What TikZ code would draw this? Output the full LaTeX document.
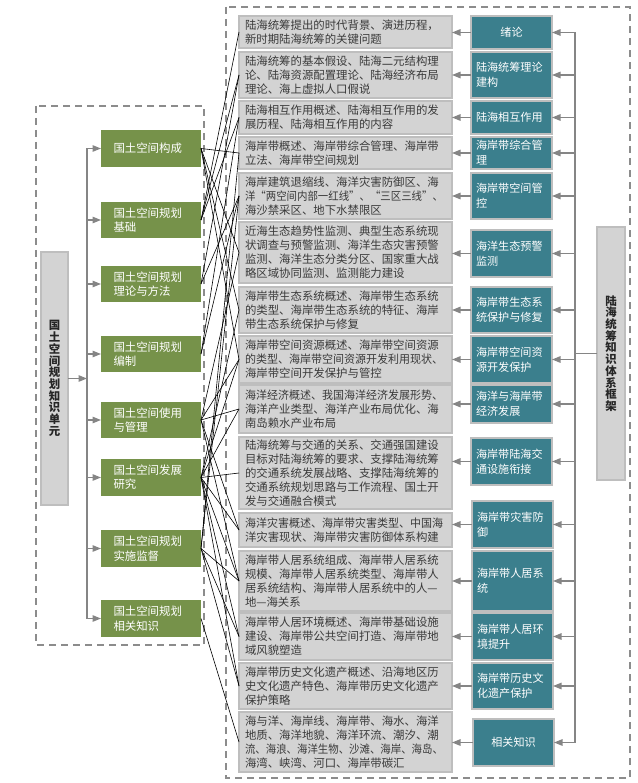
\documentclass[tikz,border=0pt]{standalone}
\usepackage{fontspec}
\usepackage{graphicx}
\newfontfamily\cjk{Noto Sans CJK SC}
\usetikzlibrary{arrows.meta}
\definecolor{gbox}{HTML}{D3D3D3}
\definecolor{gline}{HTML}{BEBEBE}
\definecolor{teal2}{HTML}{3B7F8D}
\definecolor{olive2}{HTML}{76924A}
\definecolor{txt}{HTML}{3A3A3A}
\definecolor{arr}{HTML}{858585}
\definecolor{dashc}{HTML}{8C8C8C}
\newcommand\fitline[1]{\resizebox{198pt}{\height}{#1}}
\begin{document}
\begin{tikzpicture}[x=1pt,y=-1pt,
 graybox/.style={draw=gline,line width=1.2pt,fill=gbox,anchor=north west,inner xsep=6pt,inner ysep=0pt,text width=201pt,align=left,font=\cjk\fontsize{11.4}{14}\selectfont,text=txt,outer sep=0pt},
 tealbox/.style={draw=gline,line width=1.2pt,fill=teal2,anchor=north west,inner xsep=5pt,inner ysep=0pt,text width=71pt,align=left,font=\cjk\fontsize{11.1}{15}\selectfont,text=white,outer sep=0pt},
 greenbox/.style={fill=olive2,anchor=north west,inner xsep=12.5pt,inner ysep=0pt,text width=75pt,align=left,font=\cjk\fontsize{11.4}{14.3}\selectfont,text=white,outer sep=0pt},
 vbox/.style={draw=gline,line width=1.2pt,fill=gbox,anchor=north west,inner sep=0pt,text width=13pt,align=center,font=\cjk\bfseries\fontsize{11.4}{11.7}\selectfont,text=black!85,outer sep=0pt},
 dashbox/.style={draw=dashc,line width=1.2pt,dash pattern=on 7pt off 5pt},
 arrline/.style={draw=arr,line width=1.2pt},
 arrtip/.style={arrline,-{Triangle[length=8.5pt,width=6.5pt]}},
 conn/.style={draw=black,line width=0.6pt}
]
\useasboundingbox (0,0) rectangle (637,783);

% dashed groups
\draw[dashbox] (36,106) rectangle (204,645);
\draw[dashbox] (226,7) rectangle (630,778);

% left unit box
\node[vbox,minimum width=27pt,minimum height=253pt] (L) at (41,252) {国\\土\\空\\间\\规\\划\\知\\识\\单\\元};

% green boxes
\node[greenbox,minimum height=37pt] (G1) at (101,130) {国土空间构成};
\node[greenbox,minimum height=36pt] (G2) at (101,202) {国土空间规划\\基础};
\node[greenbox,minimum height=36pt] (G3) at (101,266) {国土空间规划\\理论与方法};
\node[greenbox,minimum height=36pt] (G4) at (101,336) {国土空间规划\\编制};
\node[greenbox,minimum height=36pt] (G5) at (101,402) {国土空间使用\\与管理};
\node[greenbox,minimum height=37pt] (G6) at (101,459) {国土空间发展\\研究};
\node[greenbox,minimum height=37pt] (G7) at (101,530) {国土空间规划\\实施监督};
\node[greenbox,minimum height=37pt] (G8) at (101,600) {国土空间规划\\相关知识};

% gray content boxes
\node[graybox,minimum height=32pt] (T1) at (239,16) {陆海统筹提出的时代背景、演进历程，\\新时期陆海统筹的关键问题};
\node[graybox,minimum height=46pt] (T2) at (239,52) {陆海统筹的基本假设、陆海二元结构理\\论、陆海资源配置理论、陆海经济布局\\理论、海上虚拟人口假说};
\node[graybox,minimum height=33pt] (T3) at (239,101) {陆海相互作用概述、陆海相互作用的发\\展历程、陆海相互作用的内容};
\node[graybox,minimum height=32pt] (T4) at (239,137) {海岸带概述、海岸带综合管理、海岸带\\立法、海岸带空间规划};
\node[graybox,minimum height=46pt] (T5) at (239,173) {海岸建筑退缩线、海洋灾害防御区、海\\\fitline{洋“两空间内部一红线”、“三区三线”、}\\海沙禁采区、地下水禁限区};
\node[graybox,minimum height=61pt] (T6) at (239,222) {近海生态趋势性监测、典型生态系统现\\状调查与预警监测、海洋生态灾害预警\\监测、海洋生态分类分区、国家重大战\\略区域协同监测、监测能力建设};
\node[graybox,minimum height=46pt] (T7) at (239,287) {海岸带生态系统概述、海岸带生态系统\\的类型、海岸带生态系统的特征、海岸\\带生态系统保护与修复};
\node[graybox,minimum height=47pt] (T8) at (239,336) {海岸带空间资源概述、海岸带空间资源\\\fitline{的类型、海岸带空间资源开发利用现状、}\\海岸带空间开发保护与管控};
\node[graybox,minimum height=48pt] (T9) at (239,385) {\fitline{海洋经济概述、我国海洋经济发展形势、}\\海洋产业类型、海洋产业布局优化、海\\南岛赖水产业布局};
\node[graybox,minimum height=72pt] (T10) at (239,437) {陆海统筹与交通的关系、交通强国建设\\目标对陆海统筹的要求、支撑陆海统筹\\的交通系统发展战略、支撑陆海统筹的\\交通系统规划思路与工作流程、国土开\\发与交通融合模式};
\node[graybox,minimum height=34pt] (T11) at (239,513) {\fitline{海洋灾害概述、海岸带灾害类型、中国海}\\洋灾害现状、海岸带灾害防御体系构建};
\node[graybox,minimum height=60pt] (T12) at (239,551) {海岸带人居系统组成、海岸带人居系统\\规模、海岸带人居系统类型、海岸带人\\居系统结构、海岸带人居系统中的人—\\地—海关系};
\node[graybox,minimum height=47pt] (T13) at (239,613) {海岸带人居环境概述、海岸带基础设施\\建设、海岸带公共空间打造、海岸带地\\域风貌塑造};
\node[graybox,minimum height=46pt] (T14) at (239,663) {海岸带历史文化遗产概述、沿海地区历\\史文化遗产特色、海岸带历史文化遗产\\保护策略};
\node[graybox,minimum height=60pt] (T15) at (239,712) {海与洋、海岸线、海岸带、海水、海洋\\地质、海洋地貌、海洋环流、潮汐、潮\\\fitline{流、海浪、海洋生物、沙滩、海岸、海岛、}\\海湾、峡湾、河口、海岸带碳汇};

% teal boxes
\node[tealbox,align=center,minimum height=33pt] (B1) at (471,16) {绪论};
\node[tealbox,minimum height=46pt] (B2) at (471,52) {陆海统筹理论\\建构};
\node[tealbox,minimum height=33pt] (B3) at (471,101) {陆海相互作用};
\node[tealbox,minimum height=32pt] (B4) at (471,137) {海岸带综合管\\理};
\node[tealbox,minimum height=46pt] (B5) at (471,173) {海岸带空间管\\控};
\node[tealbox,minimum height=47pt] (B6) at (471,230) {海洋生态预警\\监测};
\node[tealbox,minimum height=46pt] (B7) at (471,287) {海岸带生态系\\统保护与修复};
\node[tealbox,minimum height=47pt] (B8) at (471,336) {海岸带空间资\\源开发保护};
\node[tealbox,minimum height=38pt] (B9) at (471,385) {海洋与海岸带\\经济发展};
\node[tealbox,minimum height=47pt] (B10) at (471,438) {海岸带陆海交\\通设施衔接};
\node[tealbox,minimum height=47pt] (B11) at (472,501) {海岸带灾害防\\御};
\node[tealbox,minimum height=60pt] (B12) at (472,551) {海岸带人居系\\统};
\node[tealbox,minimum height=47pt] (B13) at (472,613) {海岸带人居环\\境提升};
\node[tealbox,minimum height=46pt] (B14) at (472,663) {海岸带历史文\\化遗产保护};
\node[tealbox,align=center,minimum height=47pt] (B15) at (473,719) {相关知识};

% right framework box
\node[vbox,minimum width=28pt,minimum height=253pt] (R) at (597,227) {陆\\海\\统\\筹\\知\\识\\体\\系\\框\\架};

% spines
\coordinate (ls) at (87,0);
\coordinate (rs) at (575,0);

% left spine and arrows
\draw[arrline] (G1.west -| ls) -- (G8.west -| ls);
\draw[arrtip] (L.east) -- (L.east -| ls);
\foreach \g in {G1,G2,G3,G4,G5,G6,G7,G8}
  \draw[arrtip] (\g.west -| ls) -- (\g.west);

% right spine and arrows
\draw[arrline] (B1.east -| rs) -- (B15.east -| rs);
\draw[arrline] (R.west) -- (R.west -| rs);
\foreach \i in {1,...,15}{
  \draw[arrtip] (B\i.east -| rs) -- (B\i.east);
  \draw[arrtip] (B\i.west) -- (B\i.west -| T\i.east);
}

% crossing connectors between green units and content boxes
\foreach \g/\t in {G2/T1,G2/T2,G3/T2,G2/T3,G4/T3,G1/T4,G7/T4,G3/T5,G4/T5,G7/T5,
  G1/T6,G5/T6,G1/T7,G6/T7,G1/T8,G5/T8,G6/T8,G5/T9,G6/T9,G6/T10,G5/T11,G6/T11,
  G5/T12,G6/T12,G7/T12,G6/T13,G7/T13,G6/T14,G7/T14,G8/T15}
  \draw[conn] (\g.east) -- (\t.west);
\end{tikzpicture}
\end{document}
